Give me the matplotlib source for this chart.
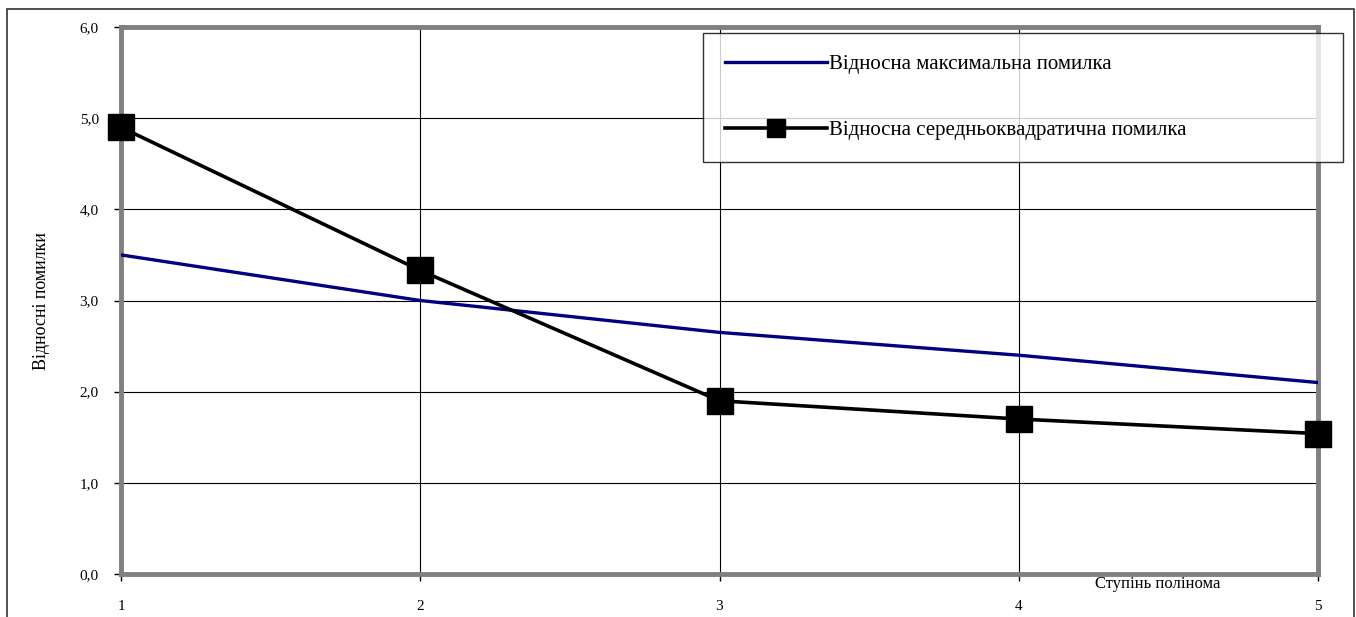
import numpy as np
import matplotlib.pyplot as plt
from matplotlib.patches import Rectangle

plt.rcParams['font.family'] = ['Liberation Serif', 'DejaVu Serif']

# polynomial degree and relative errors
degree = [1, 2, 3, 4, 5]
max_err = [3.5, 3.0, 2.65, 2.4, 2.1]
rms_err = [4.9, 3.33, 1.9, 1.7, 1.54]
y_ticks = [0, 1, 2, 3, 4, 5, 6]
y_labels = ['0,0', '1,0', '2,0', '3,0', '4,0', '5,0', '6,0']

W, H = 1356, 617
fig = plt.figure(figsize=(W / 100, H / 100), dpi=100)
ax = fig.add_axes([121 / W, 43 / H, 1197 / W, 547 / H])

# outer chart border (open at the bottom)
fig.patches.append(Rectangle((7 / W, -0.05), (1354 - 7) / W, 1.05 - 9 / H,
                             transform=fig.transFigure, fill=False,
                             edgecolor='#333333', lw=1.2))

ax.plot(degree, max_err, color='#000080', lw=2.4, label='Відносна максимальна помилка', zorder=3)
ax.plot(degree, rms_err, color='black', lw=2.6, marker='s', markersize=19,
        label='Відносна середньоквадратична помилка', zorder=4, clip_on=False)

ax.set_xlim(1, 5)
ax.set_ylim(0, 6)
ax.set_xticks(degree)
ax.set_yticks(y_ticks)
ax.set_yticklabels(y_labels)
ax.grid(True, color='black', lw=0.8)
ax.set_axisbelow(True)
ax.tick_params(direction='out', length=5, width=1, labelsize=11, color='black')
ax.tick_params(axis='y', pad=11)
ax.tick_params(axis='x', pad=14)
for s in ax.spines.values():
    s.set_color('#808080')
    s.set_linewidth(3.5)

fig.text(42 / W, 1 - 301 / H, 'Відносні помилки', rotation=90,
         ha='center', va='center', fontsize=13)
ax.text(0.866, -0.003, 'Ступінь полінома', transform=ax.transAxes,
        ha='center', va='top', fontsize=12)

leg = ax.legend(loc='upper left', bbox_to_anchor=(703 / W, 1 - 159 / H, 640 / W, 126 / H),
                bbox_transform=fig.transFigure, mode='expand', fontsize=15,
                frameon=True, fancybox=False, edgecolor='black', handlelength=4.9,
                handletextpad=0.1, labelspacing=2.2, borderpad=1.05,
                borderaxespad=0, markerscale=0.68)
leg.get_frame().set_linewidth(1.0)
leg.set_zorder(10)

fig.savefig('out.png', dpi=100)
